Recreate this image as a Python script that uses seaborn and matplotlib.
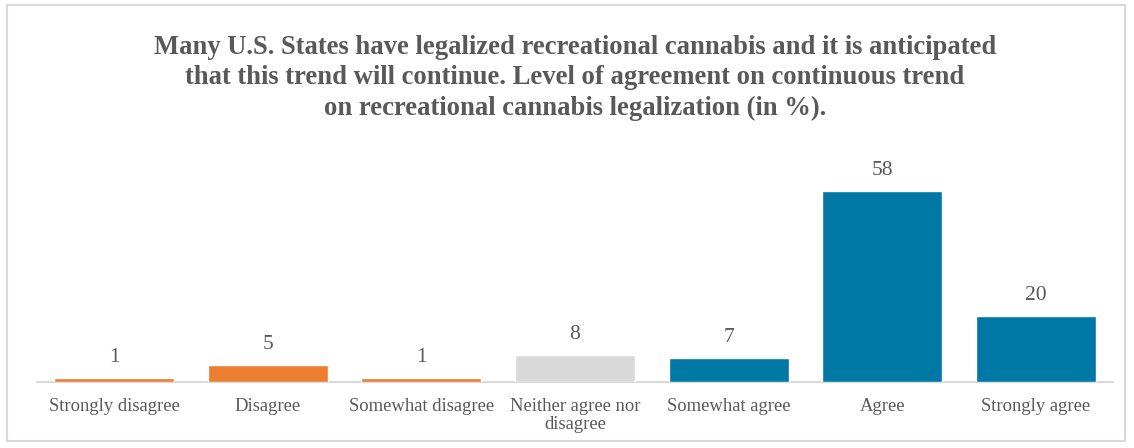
import matplotlib
matplotlib.use("Agg")
import matplotlib.pyplot as plt
import seaborn as sns
import pandas as pd
from matplotlib.patches import Rectangle

categories = ["Strongly disagree", "Disagree", "Somewhat disagree",
              "Neither agree nor\ndisagree", "Somewhat agree", "Agree", "Strongly agree"]
values = [1, 5, 1, 8, 7, 58, 20]
colors = ["#ED7D31", "#ED7D31", "#ED7D31", "#D9D9D9", "#0078A5", "#0078A5", "#0078A5"]
title = ("Many U.S. States have legalized recreational cannabis and it is anticipated\n"
         "that this trend will continue. Level of agreement on continuous trend\n"
         "on recreational cannabis legalization (in %).")

sns.set_theme(style="white")
plt.rcParams["font.family"] = ["Liberation Serif", "DejaVu Serif"]

text_color = "#595959"
df = pd.DataFrame({"category": categories, "value": values})

fig = plt.figure(figsize=(11.34, 4.48), dpi=100)
ax = fig.add_axes([0.0329, 0.1484, 0.9483, 0.514])

sns.barplot(data=df, x="category", y="value", hue="category", palette=colors,
            width=0.78, saturation=1, legend=False, ax=ax, zorder=3)

ax.set_ylim(0, 70)
ax.set_xlim(-0.5, len(categories) - 0.5)
ax.set_xlabel("")
ax.set_ylabel("")
ax.set_yticks([])
for side in ["left", "right", "top"]:
    ax.spines[side].set_visible(False)
ax.spines["bottom"].set_color("#D9D9D9")
ax.spines["bottom"].set_linewidth(1.5)
ax.spines["bottom"].set_zorder(1)
ax.tick_params(axis="x", length=0, pad=12, labelsize=13.4, colors=text_color)
for lbl in ax.get_xticklabels():
    lbl.set_linespacing(1.05)

for container in ax.containers:
    ax.bar_label(container, fmt="%d", padding=8, fontsize=15.5, color=text_color)

fig.text(0.507, 0.826, title, ha="center", va="center", fontsize=19.2,
         fontweight="bold", color=text_color, linespacing=1.27)

# light frame around the whole chart area
fig.patches.append(Rectangle((0.0062, 0.015), 0.986, 0.973, transform=fig.transFigure,
                             fill=False, edgecolor="#D9D9D9", linewidth=1.5))

fig.savefig("out.png", dpi=100)
